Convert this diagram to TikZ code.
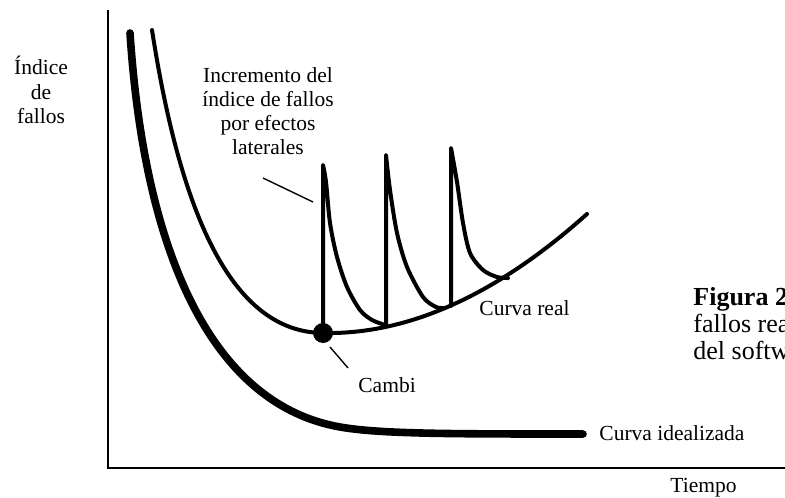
\documentclass[tikz,border=0pt]{standalone}
\usepackage{fontspec}
\setmainfont{Liberation Serif}
\begin{document}
\begin{tikzpicture}[x=0.5pt,y=-0.5pt,
  axis/.style={line width=0.85pt},
  ideal/.style={line width=3.8pt, line cap=round, line join=round},
  real/.style={line width=2pt, line cap=round, line join=round},
  pointer/.style={line width=0.7pt},
  lbl/.style={font=\fontsize{10.75}{12.1}\selectfont, inner sep=0pt},
  fig/.style={font=\fontsize{13}{13.6}\selectfont, inner sep=0pt, align=left},
  dot/.style={circle, fill=black, inner sep=0pt, minimum size=10pt}]
\useasboundingbox (0,0) rectangle (785,497);
\clip (0,0) rectangle (785,497);

% axes
\coordinate (ytop) at (108,10);
\coordinate (O) at (108,468);
\coordinate (xend) at (800,468);
\draw[axis] (ytop) -- (O) -- (xend);

% idealized curve
\coordinate (i0) at (130,33);
\coordinate (i1) at (340,427);
\coordinate (i2) at (583,434);
\draw[ideal] (i0) .. controls (145,260) and (215,405) .. (i1)
                  .. controls (380,434) and (450,434) .. (i2);

% real curve
\coordinate (r0) at (152,30);
\coordinate (c) at (323,333);
\coordinate (r2) at (587,214);
\draw[real] (r0) .. controls (180,210) and (230,332) .. (c)
                 .. controls (420,335) and (510,283) .. (r2);

% spikes
\coordinate (s1) at (323,165);
\coordinate (b2) at (386,325);
\coordinate (s2) at (386,155);
\coordinate (b3) at (451,306);
\coordinate (s3) at (451,148);
\draw[real] (c) -- (s1) -- plot[smooth] coordinates {(323,165) (326,182) (330,223) (337,257) (347,287) (360,310) (372,320) (385,325)};
\draw[real] (b2) -- (s2) -- plot[smooth] coordinates {(386,155) (390,190) (397,233) (407,267) (423,297) (436,307) (445,308)};
\draw[real] (b3) -- (s3) -- plot[smooth] coordinates {(451,148) (457,182) (463,223) (470,253) (483,270) (497,277) (508,278)};

% change point
\node[dot] (cambio) at (c) {};

% labels
\node[lbl, align=center] (ylab) at (41,90) {Índice\\de\\fallos};
\node[lbl, align=center] (incr) at (268,111) {Incremento del\\índice de fallos\\por efectos\\laterales};
\node[lbl, anchor=base west] (creal) at (479,315) {Curva real};
\node[lbl, anchor=base west] (cideal) at (599,440) {Curva idealizada};
\node[lbl, anchor=base west] (cambi) at (358,392) {Cambi};
\node[lbl, anchor=base west] (tiempo) at (670,492) {Tiempo};
\node[fig, anchor=north west] (fig) at (693,287) {\textbf{Figura 2}\\fallos rea\\del softw};

% pointers
\coordinate (p1a) at (263,178);
\coordinate (p1b) at (313,202);
\draw[pointer] (p1a) -- (p1b);
\coordinate (p2a) at (330,347);
\coordinate (p2b) at (348,368);
\draw[pointer] (p2a) -- (p2b);
\end{tikzpicture}
\end{document}
